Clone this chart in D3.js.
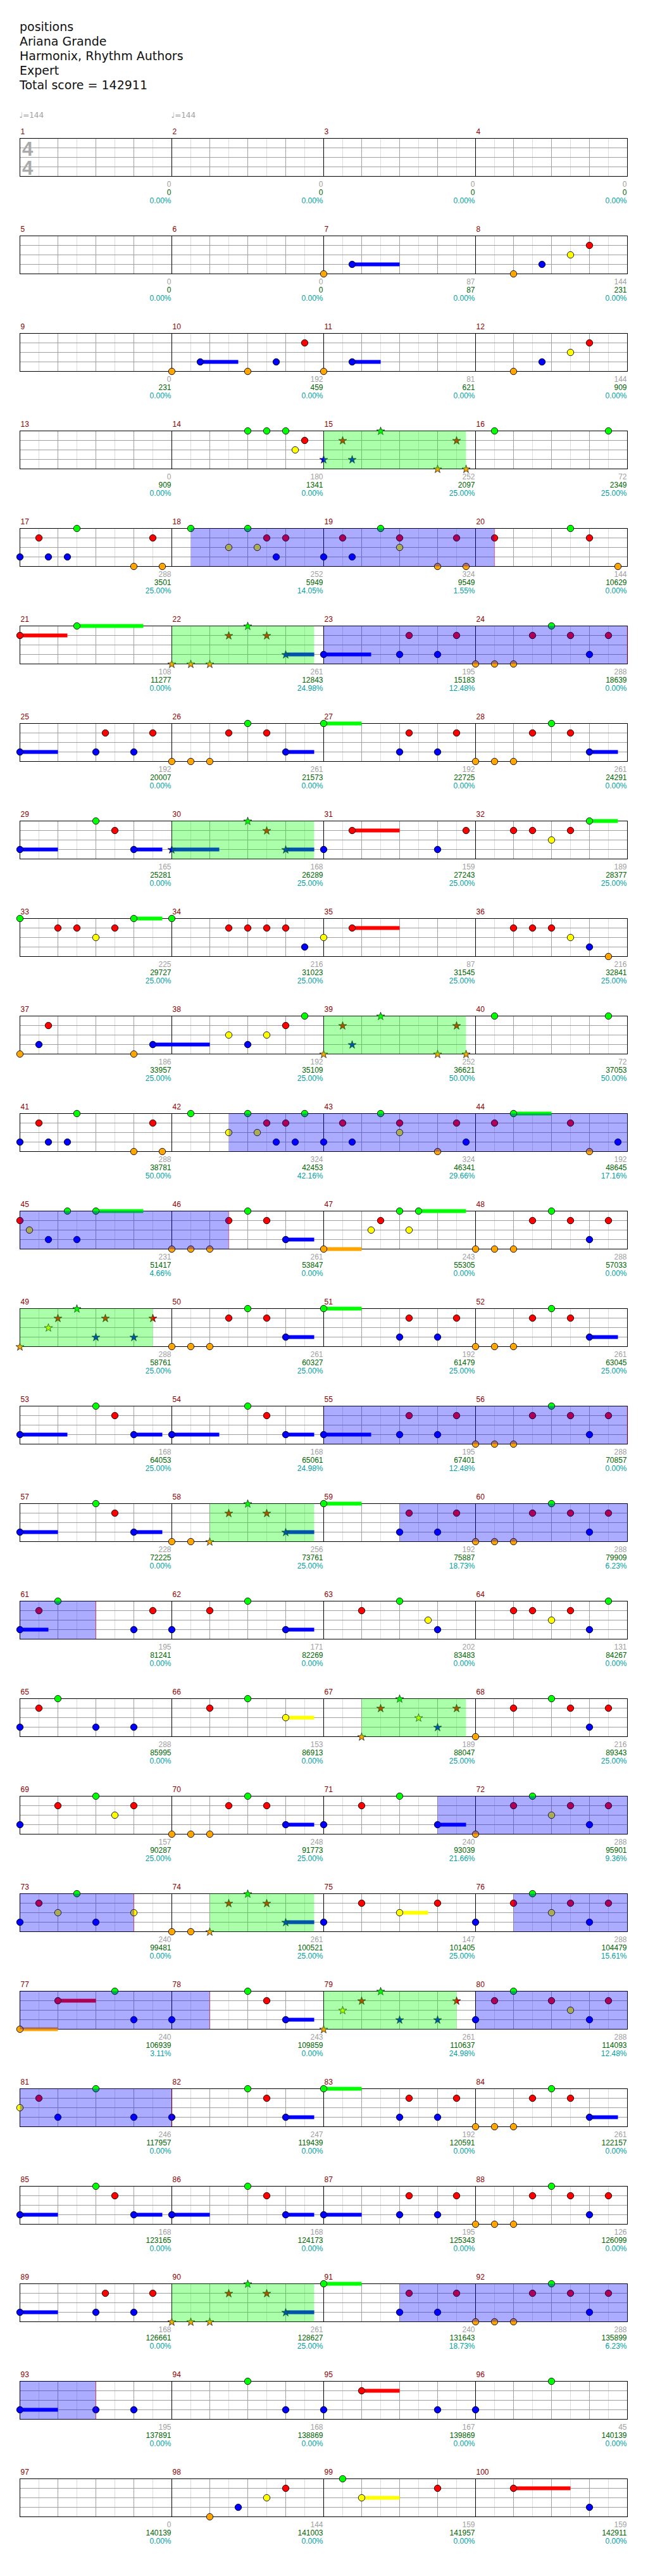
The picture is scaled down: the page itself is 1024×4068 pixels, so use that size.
<!DOCTYPE html>
<html><head><meta charset="utf-8">
<script src="https://cdn.jsdelivr.net/npm/d3@7/dist/d3.min.js"></script>
<style>body{margin:0;background:#fff}svg{display:block}</style>
</head><body>
<svg id="chart" width="1024" height="4068"></svg>
<script>
// ---------- DATA ----------
const titleLines = ["positions", "Ariana Grande", "Harmonix, Rhythm Authors", "Expert", "Total score = 142911"];
const tempoMarks = [[1, 144], [2, 144]]; // [measure, bpm]
const laneNames = ["green", "red", "yellow", "blue", "orange"];
const laneColors = ["#00ff00", "#ff0000", "#ffff00", "#0000ff", "#ffa500"];
const measureCount = 100;

// per-measure score (gray), cumulative score (green), star meter (teal)
const measureScores = [
  0,0,0,0, 0,0,87,144, 0,192,81,144, 0,180,252,72, 288,252,324,144,
  108,261,195,288, 192,261,192,261, 165,168,159,189, 225,216,87,216,
  186,192,252,72, 288,324,324,192, 231,261,243,288, 288,261,192,261,
  168,168,195,288, 228,256,192,288, 195,171,202,131, 288,153,189,216,
  157,248,240,288, 240,261,147,288, 240,243,261,288, 246,247,192,261,
  168,168,195,126, 168,261,240,288, 195,168,167,45, 0,144,159,159
];
const totalScores = [
  0,0,0,0, 0,0,87,231, 231,459,621,909, 909,1341,2097,2349, 3501,5949,9549,10629,
  11277,12843,15183,18639, 20007,21573,22725,24291, 25281,26289,27243,28377, 29727,31023,31545,32841,
  33957,35109,36621,37053, 38781,42453,46341,48645, 51417,53847,55305,57033, 58761,60327,61479,63045,
  64053,65061,67401,70857, 72225,73761,75887,79909, 81241,82269,83483,84267, 85995,86913,88047,89343,
  90287,91773,93039,95901, 99481,100521,101405,104479, 106939,109859,110637,114093, 117957,119439,120591,122157,
  123165,124173,125343,126099, 126661,128627,131643,135899, 137891,138869,139869,140139, 140139,141003,141957,142911
];
const meterPercents = [
  "0.00%","0.00%","0.00%","0.00%", "0.00%","0.00%","0.00%","0.00%", "0.00%","0.00%","0.00%","0.00%",
  "0.00%","0.00%","25.00%","25.00%", "25.00%","14.05%","1.55%","0.00%", "0.00%","24.98%","12.48%","0.00%",
  "0.00%","0.00%","0.00%","0.00%", "0.00%","25.00%","25.00%","25.00%", "25.00%","25.00%","25.00%","25.00%",
  "25.00%","25.00%","50.00%","50.00%", "50.00%","42.16%","29.66%","17.16%", "4.66%","0.00%","0.00%","0.00%",
  "25.00%","25.00%","25.00%","25.00%", "25.00%","24.98%","12.48%","0.00%", "0.00%","25.00%","18.73%","6.23%",
  "0.00%","0.00%","0.00%","0.00%", "0.00%","0.00%","25.00%","25.00%", "25.00%","25.00%","21.66%","9.36%",
  "0.00%","25.00%","25.00%","15.61%", "3.11%","0.00%","24.98%","12.48%", "0.00%","0.00%","0.00%","0.00%",
  "0.00%","0.00%","0.00%","0.00%", "0.00%","25.00%","18.73%","6.23%", "0.00%","0.00%","0.00%","0.00%",
  "0.00%","0.00%","0.00%","0.00%"
];

// notes: [measure, position in 16ths, lane (0 green .. 4 orange), sustain length in 16ths]
const notes = [
  [7,0,4],[7,3,3,5],
  [8,4,4],[8,7,3],[8,10,2],[8,12,1],
  [10,0,4],[10,3,3,4],[10,8,4],[10,11,3],[10,14,1],
  [11,0,4],[11,3,3,3],
  [12,4,4],[12,7,3],[12,10,2],[12,12,1],
  [14,8,0],[14,10,0],[14,12,0],[14,13,2],[14,14,1],
  [15,0,3],[15,2,1],[15,3,3],[15,6,0],[15,12,4],[15,14,1],[15,15,4],
  [16,2,0],[16,14,0],
  [17,0,3],[17,2,1],[17,3,3],[17,5,3],[17,6,0],[17,12,4],[17,14,1],[17,15,4],
  [18,2,0],[18,6,2],[18,8,0],[18,9,2],[18,10,1],[18,11,3],[18,12,1],
  [19,0,3],[19,2,1],[19,3,3],[19,6,0],[19,8,1],[19,8,2],[19,12,4],[19,14,1],[19,15,4],
  [20,2,1],[20,10,0],[20,12,1],[20,15,4],
  [21,0,1,5],[21,6,0,7],
  [22,0,4],[22,2,4],[22,4,4],[22,6,1],[22,8,0],[22,10,1],[22,12,3,3],
  [23,0,3,5],[23,8,3],[23,9,1],[23,12,3],[23,14,1],
  [24,0,4],[24,2,4],[24,4,4],[24,6,1],[24,8,0],[24,10,1],[24,12,3],[24,14,1],
  [25,0,3,4],[25,8,3],[25,9,1],[25,12,3],[25,14,1],
  [26,0,4],[26,2,4],[26,4,4],[26,6,1],[26,8,0],[26,10,1],[26,12,3,3],
  [27,0,0,4],[27,8,3],[27,9,1],[27,12,3],[27,14,1],
  [28,0,4],[28,2,4],[28,4,4],[28,6,1],[28,8,0],[28,10,1],[28,12,3,3],
  [29,0,3,4],[29,8,0],[29,10,1],[29,12,3,3],
  [30,0,3,5],[30,8,0],[30,10,1],[30,12,3,3],
  [31,0,3],[31,3,1,5],[31,12,3],[31,15,1],
  [32,4,1],[32,6,1],[32,8,2],[32,10,1],[32,12,0,3],
  [33,0,0],[33,4,1],[33,6,1],[33,8,2],[33,10,1],[33,12,0,3],
  [34,0,0],[34,6,1],[34,8,1],[34,10,1],[34,12,1],[34,14,3],
  [35,0,2],[35,3,1,5],
  [36,4,1],[36,6,1],[36,8,1],[36,10,2],[36,12,3],[36,14,4],
  [37,0,4],[37,2,3],[37,3,1],[37,12,4],[37,14,3,6],
  [38,6,2],[38,8,3],[38,10,2],[38,12,1],[38,14,0],
  [39,0,4],[39,2,1],[39,3,3],[39,6,0],[39,12,4],[39,14,1],[39,15,4],
  [40,2,0],[40,14,0],
  [41,0,3],[41,2,1],[41,3,3],[41,5,3],[41,6,0],[41,12,4],[41,14,1],[41,15,4],
  [42,2,0],[42,6,2],[42,8,0],[42,9,2],[42,10,1],[42,11,3],[42,12,1],[42,13,3],[42,14,0],
  [43,0,3],[43,2,1],[43,3,3],[43,6,0],[43,8,1],[43,8,2],[43,12,4],[43,14,1],[43,15,3],
  [44,2,1],[44,4,0,4],[44,10,1],[44,12,4],[44,15,3],
  [45,0,1],[45,1,2],[45,3,3],[45,5,0],[45,6,3],[45,8,0,5],
  [46,0,4],[46,2,4],[46,4,4],[46,6,1],[46,8,0],[46,10,1],[46,12,3,3],
  [47,0,4,4],[47,5,2],[47,6,1],[47,8,0],[47,9,2],[47,10,0,5],
  [48,0,4],[48,2,4],[48,4,4],[48,6,1],[48,8,0],[48,10,1],[48,12,3],[48,14,1],
  [49,0,4],[49,3,2],[49,4,1],[49,6,0],[49,8,3],[49,9,1],[49,12,3],[49,14,1],
  [50,0,4],[50,2,4],[50,4,4],[50,6,1],[50,8,0],[50,10,1],[50,12,3,3],
  [51,0,0,4],[51,8,3],[51,9,1],[51,12,3],[51,14,1],
  [52,0,4],[52,2,4],[52,4,4],[52,6,1],[52,8,0],[52,10,1],[52,12,3,3],
  [53,0,3,5],[53,8,0],[53,10,1],[53,12,3,3],
  [54,0,3,5],[54,8,0],[54,10,1],[54,12,3,3],
  [55,0,3,5],[55,8,3],[55,9,1],[55,12,3],[55,14,1],
  [56,0,4],[56,2,4],[56,4,4],[56,6,1],[56,8,0],[56,10,1],[56,12,3],[56,14,1],
  // rough estimates for the rest (to be refined)
  [57,0,3,4],[57,8,0],[57,10,1],[57,12,3,3],
  [58,0,4],[58,2,4],[58,4,4],[58,6,1],[58,8,0],[58,10,1],[58,12,3,3],
  [59,0,0,4],[59,8,3],[59,9,1],[59,12,3],[59,14,1],
  [60,0,4],[60,2,4],[60,4,4],[60,6,1],[60,8,0],[60,10,1],[60,12,3],[60,14,1],
  [61,0,3,3],[61,2,1],[61,4,0],[61,12,3],[61,14,1],
  [62,0,3],[62,4,1],[62,8,0],[62,12,3,3],
  [63,4,1],[63,8,0],[63,11,2],[63,12,3],
  [64,4,1],[64,6,1],[64,8,2],[64,10,1],[64,12,3],[64,14,0],
  [65,0,3],[65,2,1],[65,4,0],[65,8,3],[65,12,3],
  [66,4,1],[66,8,0],[66,12,2,3],
  [67,4,4],[67,6,1],[67,8,0],[67,10,2],[67,12,3],[67,14,1],
  [68,0,4],[68,4,1],[68,8,0],[68,10,1],[68,12,3],[68,14,1],
  [69,0,3],[69,4,1],[69,8,0],[69,10,2],[69,12,1],
  [70,0,4],[70,2,4],[70,4,4],[70,6,1],[70,8,0],[70,10,1],[70,12,3,3],
  [71,0,3],[71,4,1],[71,8,0],[71,12,3,3],
  [72,0,4],[72,4,1],[72,6,0],[72,8,2],[72,10,1],[72,12,3],[72,14,1],
  [73,0,3],[73,2,1],[73,4,2],[73,6,0],[73,8,3],[73,12,2],
  [74,0,4],[74,2,4],[74,4,4],[74,6,1],[74,8,0],[74,10,1],[74,12,3,3],
  [75,0,3],[75,4,1],[75,8,2,3],[75,12,1],
  [76,0,3],[76,4,1],[76,6,0],[76,8,2],[76,10,1],[76,12,3],[76,14,1],
  [77,0,4,4],[77,4,1,4],[77,10,0],[77,12,3],
  [78,0,3],[78,8,0],[78,10,1],[78,12,3,3],
  [79,0,4],[79,2,2],[79,4,1],[79,6,0],[79,8,3],[79,12,3],[79,14,1],
  [80,0,3],[80,2,1],[80,4,0],[80,8,1],[80,10,2],[80,12,3],[80,14,1],
  [81,0,2],[81,2,1],[81,4,3],[81,8,0],[81,12,3],
  [82,0,3],[82,8,0],[82,10,1],[82,12,3,3],
  [83,0,0,4],[83,8,3],[83,9,1],[83,12,3],[83,14,1],
  [84,0,4],[84,2,4],[84,4,4],[84,6,1],[84,8,0],[84,10,1],[84,12,3,3],
  [85,0,3,4],[85,8,0],[85,10,1],[85,12,3,3],
  [86,0,3,4],[86,8,0],[86,10,1],[86,12,3,3],
  [87,0,3,4],[87,8,3],[87,9,1],[87,12,3],[87,14,1],
  [88,0,4],[88,2,4],[88,4,4],[88,6,1],[88,8,0],[88,10,1],[88,12,3],[88,14,1],
  [89,0,3,4],[89,8,3],[89,9,1],[89,12,3],[89,14,1],
  [90,0,4],[90,2,4],[90,4,4],[90,6,1],[90,8,0],[90,10,1],[90,12,3,3],
  [91,0,0,4],[91,8,3],[91,9,1],[91,12,3],[91,14,1],
  [92,0,4],[92,2,4],[92,4,4],[92,6,1],[92,8,0],[92,10,1],[92,12,3],[92,14,1],
  [93,0,3,4],[93,8,3],[93,12,3],
  [94,8,0],[94,12,3],
  [95,0,3],[95,4,1,4],[95,12,3],
  [96,0,3],[96,8,0],
  [98,4,4],[98,7,3],[98,10,2],[98,12,1],
  [99,2,0],[99,4,2,4],[99,12,1],
  [100,4,1,6],[100,12,3]
];

// star power phrases (green) and activations (blue): [startMeasure, startPos, endMeasure, endPos]
const starPhrases = [[15,0,15,15],[22,0,22,15],[30,0,30,15],[39,0,39,15],[49,0,49,14],
  [58,4,58,15],[67,4,67,15],[74,4,74,15],[79,0,79,14],[90,0,90,15]];
const activations = [[18,2,20,2],[23,0,24,16],[42,6,46,6],[55,0,56,16],[59,8,61,8],
  [71,12,73,12],[76,4,78,4],[80,0,81,16],[91,8,93,8]];

// ---------- LAYOUT ----------
const svg = d3.select("#chart");
const SUB = 16, PER_ROW = 4, ROW_LEN = SUB * PER_ROW;
const x = d3.scaleLinear().domain([0, ROW_LEN]).range([31.5, 991.5]);
const rowTop = d3.scaleLinear().domain([0, 1]).range([218.5, 372.5]);
const laneY = d3.scaleLinear().domain([0, 4]).range([0, 60]);
const rows = Math.ceil(measureCount / PER_ROW);
const absPos = (m, p) => (m - 1) * SUB + p;

svg.append("rect").attr("width", 1024).attr("height", 4068).attr("fill", "#fff");

// title
svg.append("g").selectAll("text").data(titleLines).join("text")
  .attr("x", 31).attr("y", (d, i) => 49 + i * 23)
  .attr("font-family", "DejaVu Sans").attr("font-size", 19).attr("fill", "#111")
  .text(d => d);

// staff grids
for (let r = 0; r < rows; r++) {
  const g = svg.append("g").attr("transform", `translate(0,${rowTop(r)})`);
  const ticks = d3.range(0, ROW_LEN + 1, 2);
  g.selectAll("line.v1").data(ticks.filter(t => t % 4 !== 0)).join("line")
    .attr("x1", d => x(d)).attr("x2", d => x(d)).attr("y1", 0).attr("y2", 60)
    .attr("stroke", "#dcdcdc");
  g.selectAll("line.h").data([1, 2, 3]).join("line")
    .attr("x1", x(0)).attr("x2", x(ROW_LEN)).attr("y1", d => laneY(d)).attr("y2", d => laneY(d))
    .attr("stroke", "#a0a0a0");
  g.selectAll("line.v2").data(ticks.filter(t => t % 4 === 0 && t % SUB !== 0)).join("line")
    .attr("x1", d => x(d)).attr("x2", d => x(d)).attr("y1", 0).attr("y2", 60)
    .attr("stroke", "#a0a0a0");
  g.selectAll("line.v3").data(d3.range(SUB, ROW_LEN, SUB)).join("line")
    .attr("x1", d => x(d)).attr("x2", d => x(d)).attr("y1", 0).attr("y2", 60)
    .attr("stroke", "#000");
  g.append("rect").attr("x", x(0)).attr("y", 0).attr("width", x(ROW_LEN) - x(0)).attr("height", 60)
    .attr("fill", "none").attr("stroke", "#000");

  // measure numbers and labels
  for (let k = 0; k < PER_ROW; k++) {
    const m = r * PER_ROW + k + 1;
    if (m > measureCount) continue;
    g.append("text").attr("x", x(k * SUB) + 1).attr("y", -7)
      .attr("font-family", "Liberation Sans").attr("font-size", 12).attr("fill", "#8b0000").text(m);
    const xe = x((k + 1) * SUB) - 1;
    const lab = [[measureScores[m - 1], "#a0a0a0", 76], [totalScores[m - 1], "#006400", 89], [meterPercents[m - 1], "#00a0a0", 102]];
    lab.forEach(([t, c, yy]) => {
      if (t === undefined) return;
      g.append("text").attr("x", xe).attr("y", yy).attr("text-anchor", "end")
        .attr("font-family", "Liberation Sans").attr("font-size", 12).attr("fill", c).text(t);
    });
  }
}

// time signature
svg.append("g").selectAll("text").data(["4", "4"]).join("text")
  .attr("x", 35).attr("y", (d, i) => rowTop(0) + 27 + i * 30)
  .attr("font-family", "Liberation Sans").attr("font-weight", "bold").attr("font-size", 31)
  .attr("fill", "#aaaaaa").text(d => d);

// tempo marks
tempoMarks.forEach(([m, bpm]) => {
  const a = absPos(m, 0), r = Math.floor(a / ROW_LEN);
  svg.append("text").attr("x", x(a - r * ROW_LEN) - 1).attr("y", rowTop(r) - 33)
    .attr("font-family", "DejaVu Sans").attr("font-size", 12).attr("fill", "#a0a0a0")
    .text("\u2669=" + bpm);
});

// helpers
const inRanges = (a, ranges) => ranges.some(([m1, p1, m2, p2]) => a >= absPos(m1, p1) && a <= absPos(m2, p2));
function splitByRow(s, e) {
  const out = [];
  let cur = s;
  while (cur < e) {
    const r = Math.floor(cur / ROW_LEN);
    const rowEnd = (r + 1) * ROW_LEN;
    const segEnd = Math.min(e, rowEnd);
    out.push({ r, s: cur - r * ROW_LEN, e: segEnd - r * ROW_LEN, last: segEnd === e });
    cur = segEnd;
  }
  return out;
}

const noteData = notes.map(([m, p, lane, sus]) => {
  const a = absPos(m, p);
  let r = Math.floor(a / ROW_LEN);
  return { a, r, w: a - r * ROW_LEN, lane, sus: sus || 0, star: inRanges(a, starPhrases) };
});

// sustains
const gs = svg.append("g");
noteData.filter(d => d.sus > 0).forEach(d => {
  splitByRow(d.a, d.a + d.sus).forEach(seg => {
    gs.append("rect").attr("x", x(seg.s)).attr("width", x(seg.e) - x(seg.s))
      .attr("y", rowTop(seg.r) + laneY(d.lane) - 3).attr("height", 6)
      .attr("fill", laneColors[d.lane]);
  });
});

// notes
const gn = svg.append("g");
const starPath = d3.symbol(d3.symbolStar, 50)();
noteData.forEach(d => {
  const cx = x(d.w), cy = rowTop(d.r) + laneY(d.lane);
  if (d.star) {
    gn.append("path").attr("d", starPath).attr("transform", `translate(${cx},${cy + 0.5})`)
      .attr("fill", laneColors[d.lane]).attr("stroke", "#000").attr("stroke-width", 0.7);
  } else {
    gn.append("circle").attr("cx", cx).attr("cy", cy).attr("r", 5.2)
      .attr("fill", laneColors[d.lane]).attr("stroke", "#000").attr("stroke-width", 0.9);
  }
});

// overlays
const go = svg.append("g");
starPhrases.forEach(([m1, p1, m2, p2]) => {
  splitByRow(absPos(m1, p1), absPos(m2, p2)).forEach(seg => {
    go.append("rect").attr("x", x(seg.s)).attr("width", x(seg.e) - x(seg.s))
      .attr("y", rowTop(seg.r)).attr("height", 60).attr("fill", "#00ff00").attr("fill-opacity", 0.33);
  });
});
activations.forEach(([m1, p1, m2, p2]) => {
  splitByRow(absPos(m1, p1), absPos(m2, p2)).forEach(seg => {
    go.append("rect").attr("x", x(seg.s)).attr("width", x(seg.e) - x(seg.s))
      .attr("y", rowTop(seg.r)).attr("height", 60).attr("fill", "#0000ff").attr("fill-opacity", 0.33);
    if (seg.last) {
      go.append("line").attr("x1", x(seg.e)).attr("x2", x(seg.e)).attr("y1", rowTop(seg.r)).attr("y2", rowTop(seg.r) + 60)
        .attr("stroke", "#ff0000").attr("stroke-opacity", 0.3).attr("stroke-width", 1.5);
    }
  });
});
</script>
</body></html>
